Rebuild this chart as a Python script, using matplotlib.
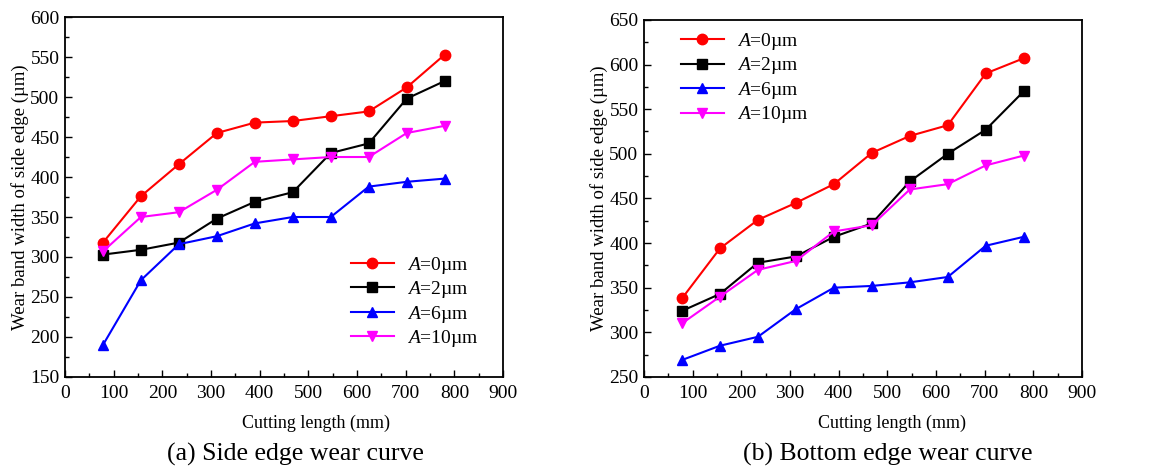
import matplotlib
matplotlib.use("Agg")
import matplotlib.pyplot as plt
from matplotlib.ticker import MultipleLocator

plt.rcParams["font.family"] = ["Liberation Serif", "DejaVu Serif"]
plt.rcParams["mathtext.fontset"] = "custom"
plt.rcParams["mathtext.it"] = "Liberation Serif:italic"
plt.rcParams["mathtext.rm"] = "Liberation Serif"

# cutting length (mm)
length = [78, 156, 234, 312, 390, 468, 546, 624, 702, 780]
labels = ["$A$=0µm", "$A$=2µm", "$A$=6µm", "$A$=10µm"]

# side edge wear band width (µm)
side_a0 = [318, 376, 416, 455, 468, 470, 476, 482, 512, 553]
side_a2 = [303, 309, 318, 348, 369, 381, 430, 442, 498, 520]
side_a6 = [190, 271, 316, 326, 342, 350, 350, 388, 394, 398]
side_a10 = [307, 350, 356, 384, 419, 422, 425, 425, 455, 464]

# bottom edge wear band width (µm)
bottom_a0 = [338, 394, 426, 445, 466, 501, 520, 532, 590, 607]
bottom_a2 = [324, 343, 378, 385, 407, 422, 469, 500, 527, 570]
bottom_a6 = [269, 285, 295, 326, 350, 352, 356, 362, 397, 407]
bottom_a10 = [310, 340, 370, 380, 413, 420, 460, 466, 487, 498]

colors = ["#ff0000", "#000000", "#0000ff", "#ff00ff"]
markers = ["o", "s", "^", "v"]

fig = plt.figure(figsize=(11.5, 4.73), dpi=100)
ax1 = fig.add_axes([0.0565, 0.203, 0.381, 0.761])
ax2 = fig.add_axes([0.560, 0.203, 0.381, 0.755])


def draw(ax, series, ylim, legend_anchor):
    for ys, c, m, lab in zip(series, colors, markers, labels):
        ax.plot(length, ys, color=c, marker=m, markersize=7.5, linewidth=1.5,
                label=lab)
    ax.set_xlim(0, 900)
    ax.set_ylim(*ylim)
    ax.xaxis.set_major_locator(MultipleLocator(100))
    ax.xaxis.set_minor_locator(MultipleLocator(50))
    ax.yaxis.set_major_locator(MultipleLocator(50))
    ax.yaxis.set_minor_locator(MultipleLocator(25))
    ax.tick_params(which="both", direction="in", top=False, right=False,
                   labelsize=14, width=1.0)
    ax.tick_params(which="major", length=5, pad=6)
    ax.tick_params(which="minor", length=3)
    ax.tick_params(axis="y", which="major", pad=4)
    for s in ax.spines.values():
        s.set_linewidth(1.3)
    ax.set_ylabel("Wear band width of side edge (µm)", fontsize=13.5,
                  labelpad=1)
    ax.legend(loc="upper left", bbox_to_anchor=legend_anchor, frameon=False,
              fontsize=14, handlelength=2.2, handletextpad=0.7,
              labelspacing=0.18, borderaxespad=0, borderpad=0)


draw(ax1, [side_a0, side_a2, side_a6, side_a10], (150, 600), (0.653, 0.340))
draw(ax2, [bottom_a0, bottom_a2, bottom_a6, bottom_a10], (250, 650),
     (0.084, 0.969))

fig.text(0.275, 0.105, "Cutting length (mm)", ha="center", va="center",
         fontsize=13)
fig.text(0.776, 0.105, "Cutting length (mm)", ha="center", va="center",
         fontsize=13)
fig.text(0.257, 0.040, "(a) Side edge wear curve", ha="center", va="center",
         fontsize=18.5)
fig.text(0.772, 0.040, "(b) Bottom edge wear curve", ha="center",
         va="center", fontsize=18.5)

fig.savefig("out.png", dpi=100)
